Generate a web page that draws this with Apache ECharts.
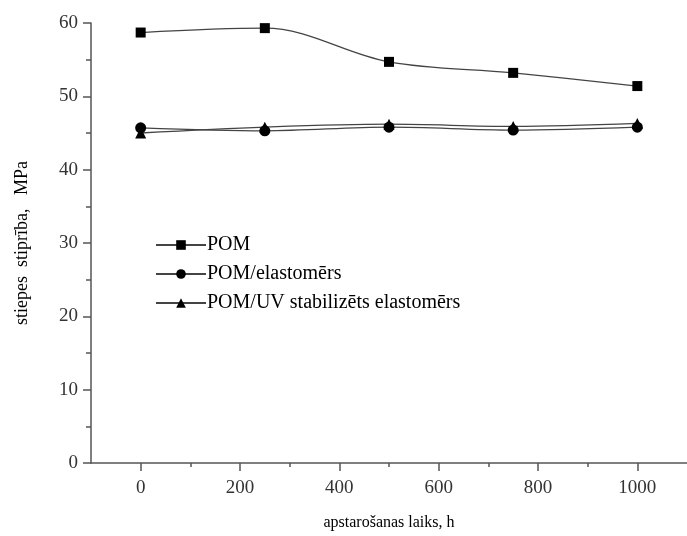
<!DOCTYPE html>
<html>
<head>
<meta charset="utf-8">
<script src="https://cdn.jsdelivr.net/npm/echarts@6/dist/echarts.min.js"></script>
<style>html,body{margin:0;padding:0;background:#fff}#c{width:687px;height:536px}</style>
</head>
<body>
<div id="c"></div>
<script>
const hours = [0, 250, 500, 750, 1000];
const pom = [58.7, 59.3, 54.7, 53.2, 51.4];
const pomElast = [45.7, 45.3, 45.8, 45.4, 45.8];
const pomUvElast = [45.0, 45.8, 46.2, 45.9, 46.3];
const seriesNames = ['POM', 'POM/elastomērs', 'POM/UV stabilizēts elastomērs'];
const xTicks = [0, 200, 400, 600, 800, 1000];
const xMinorTicks = [100, 300, 500, 700, 900];
const yTicks = [0, 10, 20, 30, 40, 50, 60];

const font = '"Liberation Serif", "DejaVu Serif", serif';
const axisCol = '#555';
const chart = echarts.init(document.getElementById('c'));
function mk(name, vals, sym, size) {
  return {
    name: name, type: 'line', smooth: 0.35,
    data: hours.map((h, i) => [h, vals[i]]),
    symbol: sym, symbolSize: size,
    lineStyle: {color: '#444', width: 1.3},
    itemStyle: {color: '#000'},
    z: 3
  };
}
chart.setOption({
  animation: false,
  backgroundColor: '#fff',
  grid: {left: 91, top: 23, width: 600, height: 446, containLabel: false},
  legend: {
    orient: 'vertical', left: 150, top: 230, itemGap: 9,
    itemWidth: 50, itemHeight: 12,
    textStyle: {fontFamily: font, fontSize: 20, color: '#000', padding: [0,0,0,-4]},
    data: seriesNames.map(n => ({name: n}))
  },
  xAxis: [{
    type: 'value', min: -100, max: 1100,
    name: 'apstarošanas laiks, h', nameLocation: 'middle', nameGap: 52,
    nameTextStyle: {fontFamily: font, fontSize: 16, color: '#000'},
    axisLine: {onZero: false, lineStyle: {color: axisCol, width: 1.5}},
    axisTick: {length: 8, lineStyle: {color: axisCol, width: 1.5}, customValues: xTicks},
    axisLabel: {fontFamily: font, fontSize: 19, color: '#333', margin: 16, customValues: xTicks,
      formatter: v => String(v)},
    splitLine: {show: false}
  }, {
    type: 'value', min: -100, max: 1100, position: 'bottom',
    axisLine: {show: false, onZero: false},
    axisTick: {length: 4, lineStyle: {color: axisCol, width: 1.5}, customValues: xMinorTicks},
    axisLabel: {show: false},
    splitLine: {show: false}
  }],
  yAxis: {
    type: 'value', min: 0, max: 60, interval: 10,
    name: 'stiepes  stiprība,   MPa', nameLocation: 'middle', nameGap: 60,
    nameTextStyle: {fontFamily: font, fontSize: 18, color: '#000'},
    axisLine: {show: true, onZero: false, lineStyle: {color: axisCol, width: 1.5}},
    axisTick: {show: true, length: 8, lineStyle: {color: axisCol, width: 1.5}},
    minorTick: {show: true, splitNumber: 2, length: 5, lineStyle: {color: axisCol, width: 1.5}},
    axisLabel: {fontFamily: font, fontSize: 19, color: '#333', margin: 13,
      formatter: v => yTicks.includes(v) ? String(v) : ''},
    splitLine: {show: false}
  },
  series: [
    mk(seriesNames[0], pom, 'rect', 10),
    mk(seriesNames[1], pomElast, 'circle', 11),
    mk(seriesNames[2], pomUvElast, 'triangle', 11)
  ]
});
</script>
</body>
</html>
